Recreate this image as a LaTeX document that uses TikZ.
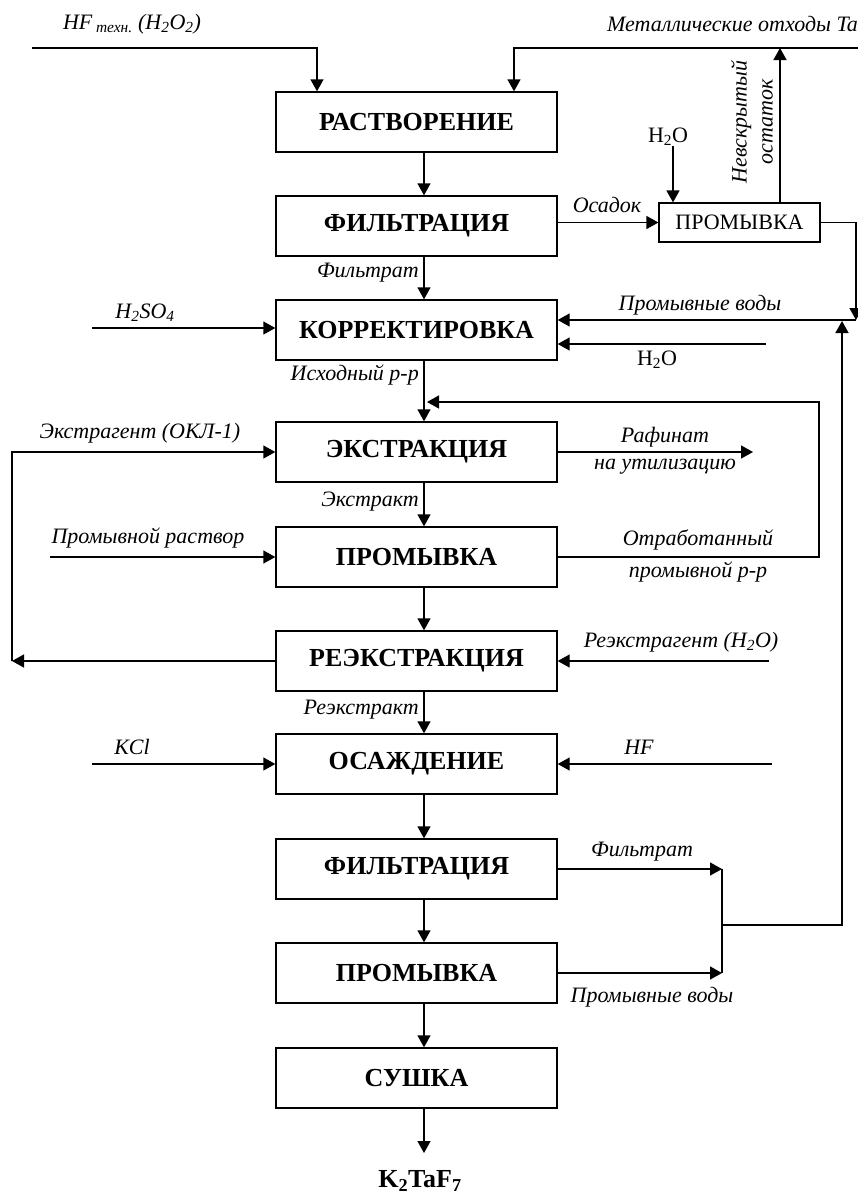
\documentclass[tikz,border=0pt]{standalone}
\usepackage{fontspec}
\setmainfont{Liberation Serif}
\usetikzlibrary{arrows.meta}

\tikzset{
  stage/.style={draw, line width=1.4pt, minimum width=281pt, minimum height=60pt, inner sep=0pt, font=\bfseries\fontsize{26}{30}\selectfont},
  smallstage/.style={draw, line width=1.2pt, minimum width=161pt, minimum height=39pt, inner sep=0pt, font=\fontsize{22}{26}\selectfont},
  lbl/.style={inner sep=0pt, font=\itshape\fontsize{22}{26}\selectfont},
  chem/.style={inner sep=0pt, font=\fontsize{22}{26}\selectfont},
  flow/.style={line width=1.4pt, -{Triangle[length=12pt,width=13pt]}},
  pipe/.style={line width=1.4pt}
}

\begin{document}
\begin{tikzpicture}[x=1pt,y=-1pt]
\useasboundingbox (0,0) rectangle (858,1195);
\node[stage] (rastv) at (416.5,122) {РАСТВОРЕНИЕ};
\node[stage] (filtrA) at (416.5,226) {ФИЛЬТРАЦИЯ};
\node[stage] (korr) at (416.5,330) {КОРРЕКТИРОВКА};
\node[stage] (ekstr) at (416.5,452) {ЭКСТРАКЦИЯ};
\node[stage] (promA) at (416.5,557) {ПРОМЫВКА};
\node[stage] (reekstr) at (416.5,661) {РЕЭКСТРАКЦИЯ};
\node[stage] (osazh) at (416.5,764) {ОСАЖДЕНИЕ};
\node[stage] (filtrB) at (416.5,869) {ФИЛЬТРАЦИЯ};
\node[stage] (promB) at (416.5,973) {ПРОМЫВКА};
\node[stage] (sushka) at (416.5,1078) {СУШКА};
\node[font=\bfseries\fontsize{26}{30}\selectfont, inner sep=0pt] (product) at (420,1181) {K\textsubscript{2}TaF\textsubscript{7}};
\node[smallstage] (promS) at (739.5,222.5) {ПРОМЫВКА};
\foreach \a/\b in {rastv/filtrA, filtrA/korr, korr/ekstr, ekstr/promA, promA/reekstr, reekstr/osazh, osazh/filtrB, filtrB/promB, promB/sushka}
\draw[flow] ([xshift=7.5pt]\a.south) -- ([xshift=7.5pt]\b.north);
\coordinate (prodin) at (424,1153);
\draw[flow] ([xshift=7.5pt]sushka.south) -- (prodin);
\coordinate (hfin) at (32,48);
\coordinate (metin) at (858,48);
\coordinate (jA) at (856,320);
\coordinate (retup) at (842,321);
\coordinate (wBin) at (766,344);
\coordinate (acid) at (92,328);
\coordinate (loopc) at (819,402);
\coordinate (loopin) at (427,402);
\coordinate (leftA) at (12,661);
\coordinate (raf) at (753,452);
\coordinate (washin) at (50,557);
\coordinate (strip) at (769,661);
\coordinate (kcl) at (92,764);
\coordinate (hfB) at (772,764);
\coordinate (jB) at (722,925);
\coordinate (jC) at (722,869);
\coordinate (jD) at (722,973);
\node[lbl] (lHF) at (132,24) {HF\,\textsubscript{техн.} (H\textsubscript{2}O\textsubscript{2})};
\node[lbl, anchor=east] (lMet) at (858,24) {Металлические отходы Ta};
\node[lbl] (lOs) at (607,205) {Осадок};
\node[lbl, rotate=90, align=center] (lRes) at (752,122) {Невскрытый\\остаток};
\node[chem] (wA) at (668,137) {H\textsubscript{2}O};
\node[lbl, anchor=east] (lFA) at (419,273) {Фильтрат};
\node[lbl] (lWash) at (700,305) {Промывные воды};
\node[chem] (wB) at (657,360) {H\textsubscript{2}O};
\node[lbl] (lAcid) at (145,313) {H\textsubscript{2}SO\textsubscript{4}};
\node[lbl, anchor=east] (lIsh) at (419,375) {Исходный р-р};
\node[lbl] (lExtr) at (140,433) {Экстрагент (ОКЛ-1)};
\node[lbl] (lRaf) at (665,437) {Рафинат};
\node[lbl] (lUtil) at (665,467) {на утилизацию};
\node[lbl, anchor=east] (lExt) at (419,502) {Экстракт};
\node[lbl] (lWsol) at (148,538) {Промывной раствор};
\node[lbl] (lSpent) at (698,540) {Отработанный};
\node[lbl] (lSpentB) at (698,572) {промывной р-р};
\node[lbl] (lStrip) at (681,642) {Реэкстрагент (H\textsubscript{2}O)};
\node[lbl, anchor=east] (lReext) at (419,710) {Реэкстракт};
\node[lbl] (lKCl) at (132,747) {KCl};
\node[lbl] (lHFB) at (639,747) {HF};
\node[lbl] (lFB) at (642,852) {Фильтрат};
\node[lbl] (lWB) at (652,997) {Промывные воды};
\draw[flow] (hfin) -| ([xshift=-99.5pt]rastv.north);
\draw[flow] (metin) -| ([xshift=97.5pt]rastv.north);
\draw[flow] (filtrA.east |- promS.west) -- (promS.west);
\draw[flow] ([xshift=-66.5pt]promS.north |- wA.south) -- ([xshift=-66.5pt]promS.north);
\draw[flow] ([xshift=40.5pt]promS.north) -- ([xshift=40.5pt]promS.north |- metin);
\draw[flow] (promS.east) -| (jA);
\draw[flow] (jA) -- (korr.east |- jA);
\draw[flow] (wBin) -- (korr.east |- wBin);
\draw[flow] (acid) -- (korr.west |- acid);
\draw[flow] (promA.east) -| (loopc) -- (loopin);
\draw[flow] (reekstr.west) -- (leftA);
\draw[flow] (leftA) |- (ekstr.west);
\draw[flow] (ekstr.east) -- (raf);
\draw[flow] (washin) -- (promA.west);
\draw[flow] (strip) -- (reekstr.east);
\draw[flow] (kcl) -- (osazh.west);
\draw[flow] (hfB) -- (osazh.east);
\draw[flow] (filtrB.east) -- (jC);
\draw[flow] (promB.east) -- (jD);
\draw[pipe] (jC) -- (jD);
\draw[flow] (jB) -| (retup);
\end{tikzpicture}
\end{document}
